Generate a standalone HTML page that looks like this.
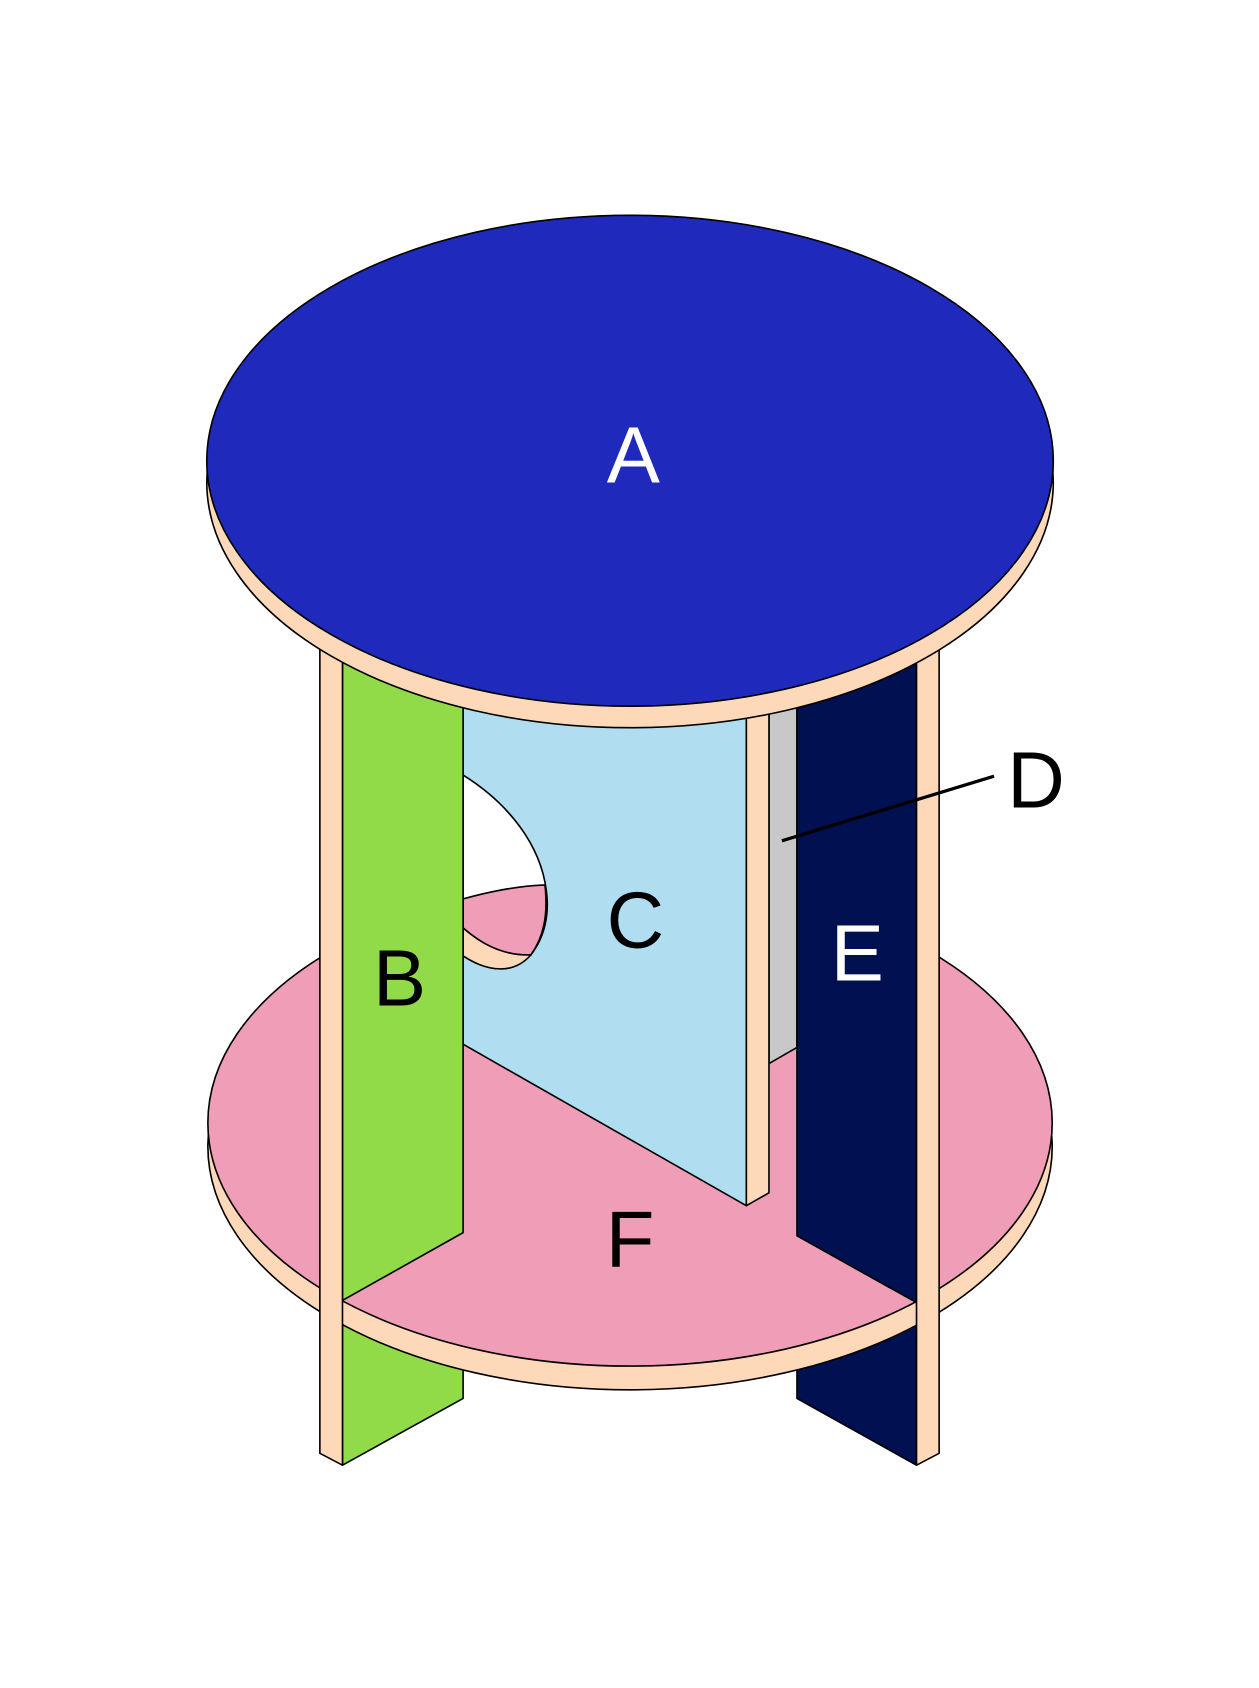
<!DOCTYPE html>
<html><head><meta charset="utf-8"><style>html,body{margin:0;padding:0;background:#fff}svg{display:block}</style></head>
<body>
<svg width="1259" height="1688" viewBox="0 0 1169 1568" preserveAspectRatio="none" xmlns="http://www.w3.org/2000/svg" stroke="#000" stroke-width="1.5" stroke-linejoin="round">
<rect x="0" y="0" width="1169" height="1568" fill="#fff" stroke="none"/>
<polygon points="318,560 430,560 430,1299 318,1361" fill="#92DB48"/>
<polygon points="740,560 851,560 851,1361 740,1299" fill="#001050"/>
<ellipse cx="585" cy="1065" rx="392" ry="226" fill="#FDD9BA"/>
<ellipse cx="585" cy="1043" rx="392" ry="226" fill="#F09EB8"/>
<polygon points="430,560 693,560 693,1120 430,970" fill="#B0DEF0"/>
<path d="M430,720 C470,745 505,785 508,835 C510,865 495,900 465,900 C450,900 438,893 430,888 Z" fill="#fff"/>
<path d="M430,835 C455,828 480,823 506,822 C509,850 505,870 493,887 C465,888 445,875 430,862 Z" fill="#F09EB8"/>
<path d="M430,862 C445,875 465,888 493,887 C485,896 475,900 465,900 C450,900 438,893 430,888 Z" fill="#FDD9BA"/>
<polygon points="714,560 740,560 740,973 714,988" fill="#C8C8C8"/>
<polygon points="693,560 714,560 714,1108 693,1120" fill="#FDD9BA"/>
<polygon points="318,560 430,560 430,1145 318,1208" fill="#92DB48"/>
<polygon points="740,560 851,560 851,1210 740,1148" fill="#001050"/>
<polygon points="297,560 318,560 318,1361 297,1350" fill="#FDD9BA"/>
<polygon points="851,560 872,560 872,1350 851,1361" fill="#FDD9BA"/>
<ellipse cx="585" cy="448" rx="393" ry="228" fill="#FDD9BA"/>
<ellipse cx="585" cy="428" rx="393" ry="228" fill="#1F2ABD"/>
<line x1="726" y1="781" x2="923" y2="721" stroke-width="3"/>
<g stroke="none" font-family="Liberation Sans, sans-serif" font-size="74" text-anchor="middle">
<text x="588" y="448" fill="#fff">A</text>
<text x="371" y="934" fill="#000">B</text>
<text x="590" y="880" fill="#000">C</text>
<text x="962" y="750" fill="#000">D</text>
<text x="796" y="911" fill="#fff">E</text>
<text x="585" y="1177" fill="#000">F</text>
</g>
</svg>
</body></html>
